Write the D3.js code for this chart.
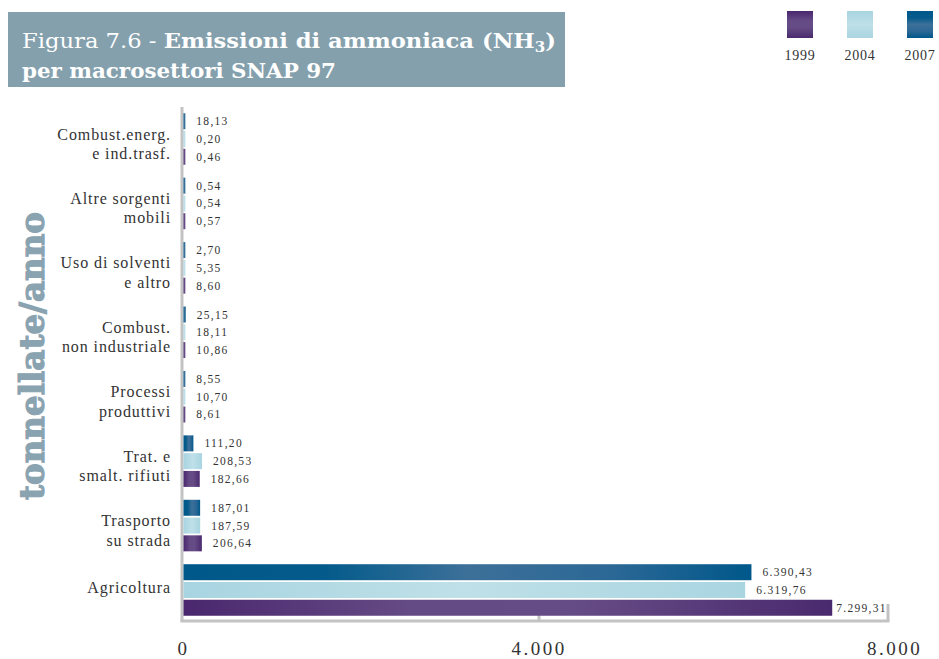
<!DOCTYPE html>
<html><head><meta charset="utf-8">
<script src="https://cdn.jsdelivr.net/npm/d3@7"></script>
<style>
html,body{margin:0;padding:0;background:#fff;}
svg{display:block;}
</style></head>
<body>
<svg id="c" width="939" height="659"></svg>
<script>
// ---- data ----
const categoryLines = [
  ["Combust.energ.", "e ind.trasf."],
  ["Altre sorgenti", "mobili"],
  ["Uso di solventi", "e altro"],
  ["Combust.", "non industriale"],
  ["Processi", "produttivi"],
  ["Trat. e", "smalt. rifiuti"],
  ["Trasporto", "su strada"],
  ["Agricoltura"]
];
const categories = categoryLines.map(l => l.join(" "));
const years = ["2007", "2004", "1999"];          // top-to-bottom inside each group
const legendYears = ["1999", "2004", "2007"];    // legend left-to-right
const v2007 = [18.13, 0.54, 2.70, 25.15, 8.55, 111.20, 187.01, 6390.43];
const v2004 = [0.20, 0.54, 5.35, 18.11, 10.70, 208.53, 187.59, 6319.76];
const v1999 = [0.46, 0.57, 8.60, 10.86, 8.61, 182.66, 206.64, 7299.31];
const xTicks = [0, 4000, 8000];
const xTickLabels = ["0", "4.000", "8.000"];
const series = {"2007": v2007, "2004": v2004, "1999": v1999};

const itFmt = d3.formatLocale({decimal: ",", thousands: ".", grouping: [3], currency: ["€", ""]}).format(",.2f");

const svg = d3.select("#c");
const defs = svg.append("defs");

function hGrad(id, stops, vertical) {
  const g = defs.append("linearGradient").attr("id", id)
    .attr("x1", 0).attr("y1", 0)
    .attr("x2", vertical ? 0 : 1).attr("y2", vertical ? 1 : 0);
  stops.forEach(s => g.append("stop").attr("offset", s[0]).attr("stop-color", s[1]));
}
const gradStops = {
  "2007": [[0, "#00588a"], [0.25, "#045b8b"], [0.5, "#3c7099"], [0.75, "#2c6896"], [1, "#00588a"]],
  "2004": [[0, "#a8d4e1"], [0.5, "#bfe0e8"], [1, "#a9d5e1"]],
  "1999": [[0, "#4a276e"], [0.35, "#654b85"], [0.6, "#664c86"], [1, "#4a2a6e"]]
};
years.forEach(y => {
  hGrad("g" + y, gradStops[y], false);
  hGrad("v" + y, gradStops[y], true);
});

// ---- scales ----
const x = d3.scaleLinear().domain([0, 8000]).range([183.5, 894.5]);
const yBand = d3.scaleBand().domain(categories).range([106.8, 622.2]).paddingInner(0.2).paddingOuter(0.1);
const ySub = d3.scaleBand().domain(years).range([0, yBand.bandwidth()]).paddingInner(0.1);

const axisColor = "#c3c3c3";
const frameRight = x(8000) - 6.5;
const frameBottom = 621;

// ---- title box ----
svg.append("rect").attr("x", 8).attr("y", 12).attr("width", 557).attr("height", 75).attr("fill", "#84a0ad");
const t1 = svg.append("text").attr("x", 22).attr("y", 48)
  .attr("fill", "#fff").attr("font-family", "DejaVu Serif").attr("font-size", 21)
  .attr("textLength", 534).attr("lengthAdjust", "spacingAndGlyphs");
t1.append("tspan").attr("font-weight", "normal").text("Figura 7.6 - ");
t1.append("tspan").attr("font-weight", "bold").text("Emissioni di ammoniaca (NH");
t1.append("tspan").attr("font-weight", "bold").attr("font-size", 14).attr("dy", 4).text("3");
t1.append("tspan").attr("font-weight", "bold").attr("dy", -4).text(")");
svg.append("text").attr("x", 22).attr("y", 78)
  .attr("fill", "#fff").attr("font-family", "DejaVu Serif").attr("font-size", 21).attr("font-weight", "bold")
  .attr("textLength", 314).attr("lengthAdjust", "spacingAndGlyphs")
  .text("per macrosettori SNAP 97");

// ---- legend ----
const legendX = d3.scalePoint().domain(legendYears).range([800, 920]);
const lg = svg.append("g").selectAll("g").data(legendYears).join("g");
lg.append("rect").attr("x", d => legendX(d) - 13).attr("y", 11).attr("width", 26).attr("height", 27)
  .attr("fill", d => `url(#v${d})`);
lg.append("text").attr("x", d => legendX(d)).attr("y", 60).attr("text-anchor", "middle")
  .attr("font-family", "Liberation Serif").attr("font-size", 14).attr("fill", "#333")
  .attr("letter-spacing", 0.8).style("font-variant-numeric", "oldstyle-nums").text(d => d);

// ---- y axis title ----
svg.append("text").attr("transform", "translate(44,356) rotate(-90)")
  .attr("text-anchor", "middle").attr("font-family", "DejaVu Serif").attr("font-weight", "bold")
  .attr("font-size", 34).attr("fill", "#8aa3b0")
  .attr("stroke", "#8aa3b0").attr("stroke-width", 1.2)
  .attr("textLength", 288).attr("lengthAdjust", "spacingAndGlyphs")
  .text("tonnellate/anno");

// ---- frame / axes lines ----
svg.append("line").attr("x1", x(0) - 1.5).attr("x2", x(0) - 1.5).attr("y1", 107).attr("y2", frameBottom + 1)
  .attr("stroke", axisColor).attr("stroke-width", 3);
svg.append("line").attr("x1", x(0) - 3).attr("x2", frameRight + 1.5).attr("y1", frameBottom).attr("y2", frameBottom)
  .attr("stroke", axisColor).attr("stroke-width", 3);
svg.append("line").attr("x1", frameRight).attr("x2", frameRight).attr("y1", 604).attr("y2", frameBottom)
  .attr("stroke", axisColor).attr("stroke-width", 3);
svg.append("g").selectAll("line").data(xTicks.filter(d => d > 0 && x(d) < frameRight)).join("line")
  .attr("x1", d => x(d)).attr("x2", d => x(d)).attr("y1", 609).attr("y2", frameBottom)
  .attr("stroke", axisColor).attr("stroke-width", 3);

// tick labels
svg.append("g").selectAll("text").data(xTicks).join("text")
  .attr("x", d => x(d)).attr("y", 655).attr("text-anchor", "middle")
  .attr("font-family", "Liberation Serif").attr("font-size", 19).attr("fill", "#333")
  .attr("letter-spacing", 2.5).style("font-variant-numeric", "oldstyle-nums")
  .text((d, i) => xTickLabels[i]);

// ---- bars ----
const groups = svg.append("g").selectAll("g").data(categories).join("g")
  .attr("transform", d => `translate(0,${yBand(d)})`);

groups.each(function(cat, ci) {
  const g = d3.select(this);
  years.forEach(yr => {
    const v = series[yr][ci];
    const w = Math.max(1.8, x(v) - x(0));
    g.append("rect").attr("x", x(0)).attr("y", ySub(yr)).attr("width", w).attr("height", ySub.bandwidth())
      .attr("fill", `url(#g${yr})`);
    const lab = g.append("text").attr("y", ySub(yr) + ySub.bandwidth() / 2 + 4)
      .attr("font-family", "Liberation Serif").attr("font-size", 11.5).attr("fill", "#333")
      .attr("letter-spacing", 1.3).text(itFmt(v));
    let lx = x(0) + w + 11;
    const tw = lab.node().getComputedTextLength();
    if (lx + tw > frameRight) lx = x(0) + w + 4;
    lab.attr("x", lx);
  });
  // category label
  const lines = categoryLines[ci];
  const cy = yBand.bandwidth() / 2;
  const txt = g.append("text").attr("text-anchor", "end").attr("x", 171)
    .attr("font-family", "Liberation Serif").attr("font-size", 16).attr("fill", "#333")
    .attr("letter-spacing", 0.9);
  if (lines.length === 1) {
    txt.append("tspan").attr("x", 171).attr("y", cy + 3).text(lines[0]);
  } else {
    lines.forEach((l, li) => txt.append("tspan").attr("x", 171).attr("y", cy + 0.5 + li * 19.5).text(l));
  }
});
</script>
</body></html>
